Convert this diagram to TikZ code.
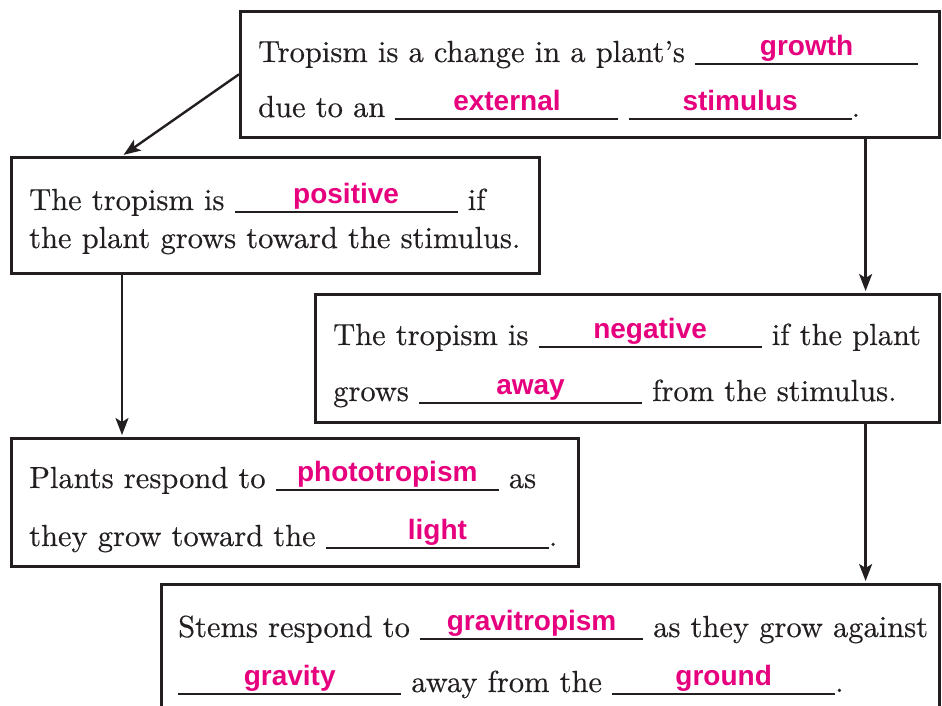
\documentclass[tikz,border=0pt]{standalone}
\usepackage{fontspec}
\setmainfont{lmroman10-regular.otf}[FakeBold=0.4]
\newfontfamily\answerfont{Liberation Sans}
\usetikzlibrary{arrows.meta,positioning}
\definecolor{answerpink}{RGB}{230,0,126}
\definecolor{ink}{RGB}{35,31,32}
\newcommand{\answer}[1]{\rlap{\rule[-3pt]{223pt}{2.2pt}}\makebox[223pt]{\raisebox{6.5pt}{\answerfont\bfseries\fontsize{28pt}{30pt}\selectfont\color{answerpink}#1}}}

\begin{document}
\begin{tikzpicture}[x=1pt, y=-1pt, line join=miter, color=ink,
  panel/.style={draw, line width=2.6pt, rectangle, anchor=north west, inner sep=0pt},
  textline/.style={anchor=base west, inner sep=0pt, font=\fontsize{30.5pt}{36pt}\selectfont},
  arrowline/.style={-{Stealth[length=17pt,width=13pt,inset=4pt]}, line width=2.4pt, shorten >=2pt}]
\useasboundingbox (0,0) rectangle (942,706);
\clip (0,0) rectangle (942,706);
% boxes
\node[panel, minimum width=699pt, minimum height=126pt] (changebox) at (239,10) {};
\node[panel, minimum width=528pt, minimum height=116pt] (posbox) at (10,156) {};
\node[panel, minimum width=624pt, minimum height=128pt] (negbox) at (314,293) {};
\node[panel, minimum width=567pt, minimum height=128pt] (photobox) at (10,437) {};
\node[panel, minimum width=778pt, minimum height=140pt] (gravbox) at (160,583) {};
% arrows
\draw[arrowline] (changebox.west) -- ([xshift=112pt]posbox.north west);
\draw[arrowline] ([xshift=-75pt]changebox.south east) -- ([xshift=-75pt]negbox.north east);
\draw[arrowline] ([xshift=112pt]posbox.south west) -- ([xshift=112pt]photobox.north west);
\draw[arrowline] ([xshift=-75pt]negbox.south east) -- ([xshift=-75pt]gravbox.north east);
% text
\node[textline] (changeA) at (258,62) {Tropism is a change in a plant's \answer{growth}};
\node[textline] (changeB) at (258,117) {due to an \answer{external} \answer{stimulus}.};
\node[textline] (posA) at (29,210) {The tropism is \answer{positive} if};
\node[textline] (posB) at (29,248) {the plant grows toward the stimulus.};
\node[textline] (negA) at (333,345) {The tropism is \answer{negative} if the plant};
\node[textline] (negB) at (333,401) {grows \answer{away} from the stimulus.};
\node[textline] (photoA) at (29,488) {Plants respond to \answer{phototropism} as};
\node[textline] (photoB) at (29,546) {they grow toward the \answer{light}.};
\node[textline] (gravA) at (178,637) {Stems respond to \answer{gravitropism} as they grow against};
\node[textline] (gravB) at (178,692) {\answer{gravity} away from the \answer{ground}.};
\end{tikzpicture}
\end{document}
